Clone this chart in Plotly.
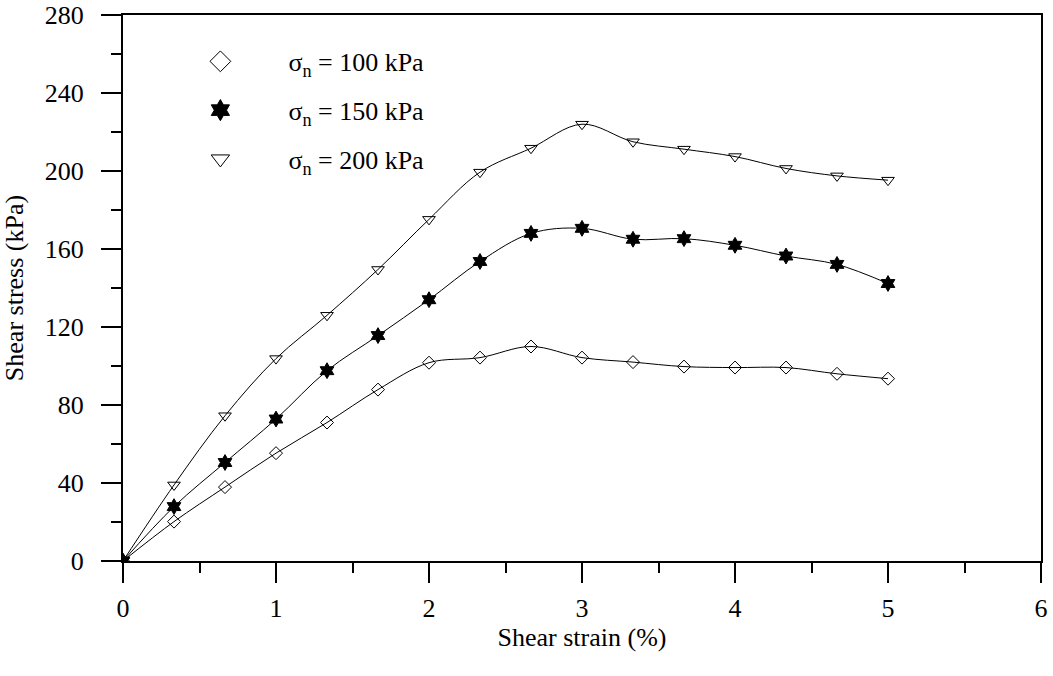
import plotly.graph_objects as go

strain = [0, 1/3, 2/3, 1, 4/3, 5/3, 2, 7/3, 8/3, 3, 10/3, 11/3, 4, 13/3, 14/3, 5]
tau_100 = [0, 20.2, 37.9, 55.3, 71.0, 87.9, 101.7, 104.3, 110.0, 104.3, 102.0, 99.7, 99.2, 99.2, 96.0, 93.5]
tau_150 = [0, 27.9, 50.5, 72.8, 97.6, 115.6, 134.0, 153.6, 168.0, 170.6, 165.0, 165.3, 161.9, 156.4, 152.1, 142.3]
tau_200 = [0, 39.0, 74.5, 103.8, 126.0, 149.5, 175.2, 199.4, 211.7, 224.0, 215.0, 211.2, 207.4, 201.3, 197.5, 195.3]

names = ["σ<sub>n</sub> = 100 kPa", "σ<sub>n</sub> = 150 kPa", "σ<sub>n</sub> = 200 kPa"]
series = [tau_100, tau_150, tau_200]
symbols = ["diamond-open", "hexagram", "triangle-down-open"]
sizes = [10, 12, 11]

FONT = "Liberation Serif, Times New Roman, serif"
FS = 26

fig = go.Figure()
for i, (nm, ys, sym, sz) in enumerate(zip(names, series, symbols, sizes)):
    fig.add_trace(go.Scatter(
        x=strain, y=ys, name=nm, mode="lines+markers", showlegend=False,
        line=dict(color="black", width=1, shape="spline", smoothing=1),
        marker=dict(symbol=sym, size=sz, color="black", line=dict(color="black", width=1)),
        legendgroup=f"g{i}",
    ))
    # legend entry (marker only)
    fig.add_trace(go.Scatter(
        x=[None], y=[None], name=nm, mode="markers", showlegend=True,
        marker=dict(symbol=sym, size=16, color="black", line=dict(color="black", width=1)),
        legendgroup=f"g{i}",
    ))

fig.update_layout(
    width=1053, height=676,
    margin=dict(l=123, r=12, t=15, b=115),
    paper_bgcolor="white", plot_bgcolor="white",
    font=dict(family=FONT, size=FS, color="black"),
    showlegend=True,
    legend=dict(
        x=0.032, y=0.958, xanchor="left", yanchor="top",
        bgcolor="rgba(0,0,0,0)", borderwidth=0,
        font=dict(family=FONT, size=FS, color="black"),
        itemwidth=126, tracegroupgap=12, itemsizing="trace",
    ),
)

fig.update_xaxes(
    range=[0, 6], tickmode="linear", tick0=0, dtick=1, automargin=False,
    showgrid=False, zeroline=False,
    showline=True, linecolor="black", linewidth=2, mirror=True,
    ticks="outside", ticklen=20, tickwidth=2, tickcolor="black",
    ticklabelstandoff=3,
    minor=dict(ticks="outside", ticklen=10, tickwidth=2, tickcolor="black", dtick=0.5, tick0=0, showgrid=False),
    title=dict(text="Shear strain (%)", font=dict(family=FONT, size=FS), standoff=6),
    tickfont=dict(family=FONT, size=FS),
)
fig.update_yaxes(
    range=[0, 280], tickmode="linear", tick0=0, dtick=40, automargin=False,
    showgrid=False, zeroline=False,
    showline=True, linecolor="black", linewidth=2, mirror=True,
    ticks="outside", ticklen=20, tickwidth=2, tickcolor="black",
    ticklabelstandoff=12,
    minor=dict(ticks="outside", ticklen=10, tickwidth=2, tickcolor="black", dtick=20, tick0=0, showgrid=False),
    title=dict(text="Shear stress (kPa)", font=dict(family=FONT, size=FS), standoff=14),
    tickfont=dict(family=FONT, size=FS),
)

fig.write_html("out.html")
